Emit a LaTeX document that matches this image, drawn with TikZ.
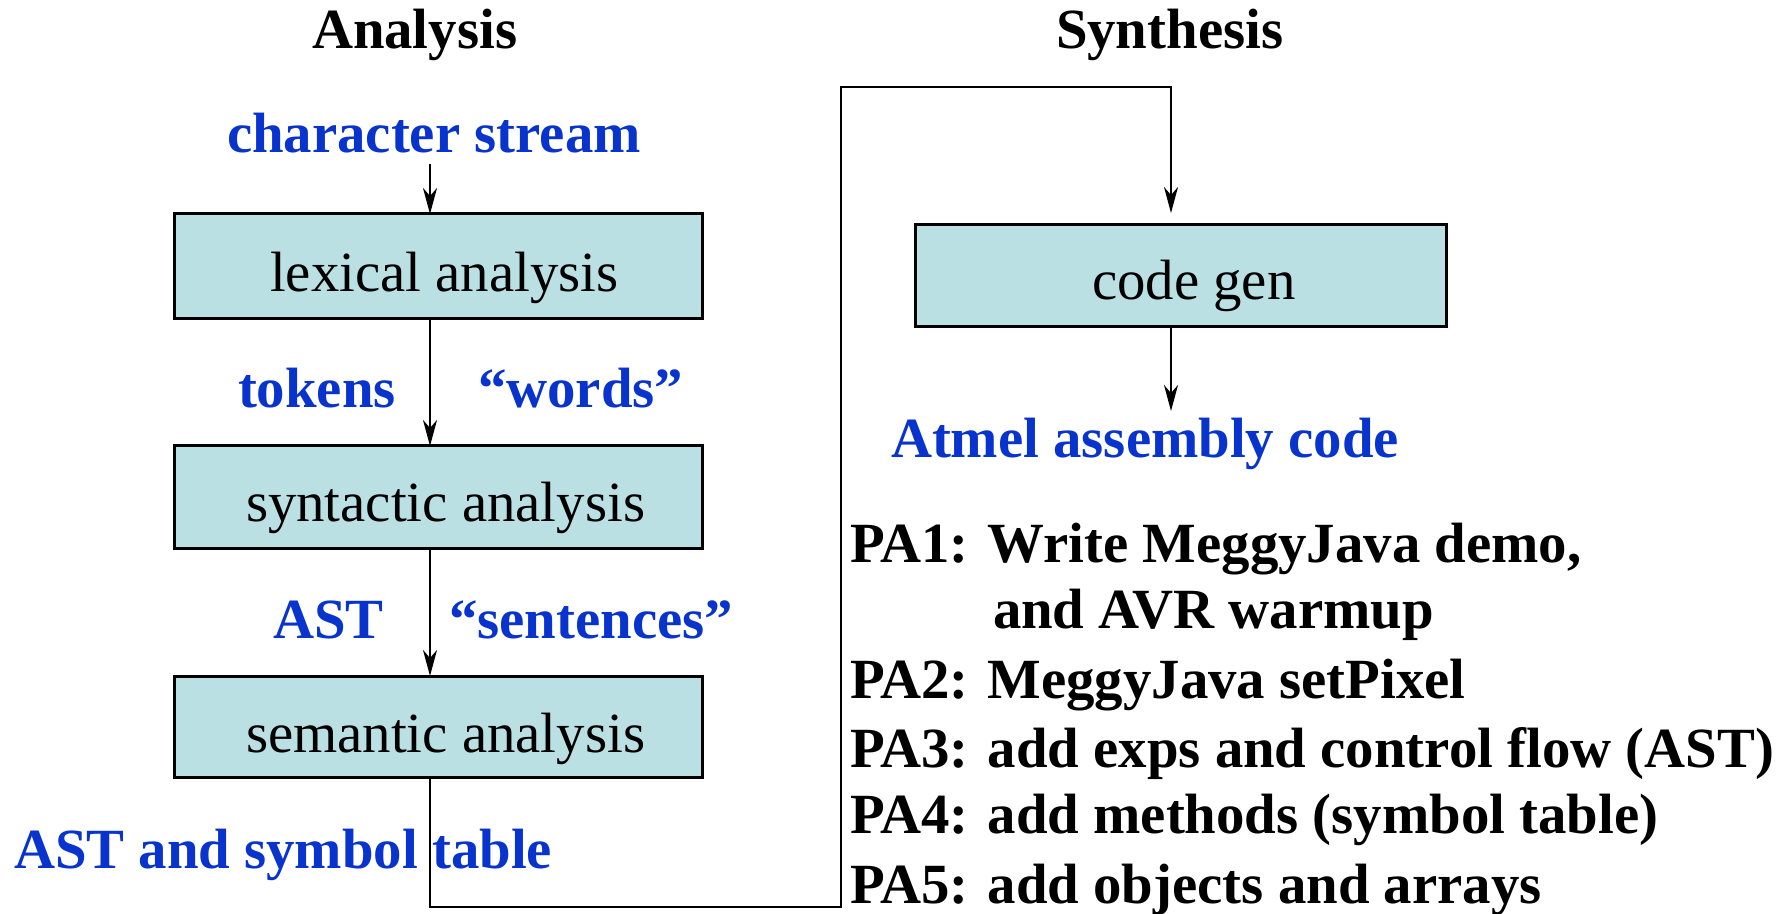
\documentclass[tikz,border=0pt]{standalone}
\usepackage{fontspec}
\setmainfont{Liberation Serif}
\usetikzlibrary{arrows.meta}
\definecolor{lblue}{RGB}{8,52,205}
\definecolor{boxfill}{RGB}{187,224,227}
\begin{document}
\begin{tikzpicture}[x=0.5pt,y=-0.5pt,
  txt/.style={font=\fontsize{28.4}{34}\selectfont, inner sep=0pt, outer sep=0pt, anchor=base west},
  btxt/.style={txt, font=\fontsize{28.4}{34}\selectfont\bfseries},
  blab/.style={btxt, text=lblue},
  box/.style={draw, line width=1.5pt, fill=boxfill, inner sep=0pt, outer sep=0pt, minimum width=264pt},
  conn/.style={line width=1pt, -{Stealth[length=13pt,width=7pt,inset=4pt]}}]
\useasboundingbox (0,0) rectangle (1783,914);

% headings
\node[btxt] (ana) at (312,49) {Analysis};
\node[btxt] (syn) at (1056,49) {Synthesis};

% boxes
\node[box, minimum height=52.5pt] (lex) at (438,266.5) {};
\node[box, minimum height=51pt] (syt) at (438,497) {};
\node[box, minimum height=50.5pt] (sem) at (438,726.5) {};
\node[box, minimum width=265.5pt, minimum height=51pt] (cg) at (1180.5,276) {};

% box texts
\node[txt] (lext) at (270,292) {lexical analysis};
\node[txt] (sytt) at (246,522) {syntactic analysis};
\node[txt] (semt) at (246,752) {semantic analysis};
\node[txt] (cgt) at (1092,300) {code gen};

% blue labels
\node[blab] (cs) at (227,153) {character stream};
\node[blab] (tok) at (238,408) {tokens};
\node[blab] (wrd) at (478,408) {“words”};
\node[blab] (ast) at (273,638) {AST};
\node[blab] (sen) at (449,638) {“sentences”};
\node[blab] (ast2) at (14,868) {AST and symbol table};
\node[blab] (atm) at (891,458) {Atmel assembly code};

% PA list
\node[btxt] (pa1) at (850,562) {PA1: Write MeggyJava demo,};
\node[btxt] (pa1b) at (993,628) {and AVR warmup};
\node[btxt] (pa2) at (850,698) {PA2: MeggyJava setPixel};
\node[btxt] (pa3) at (850,767) {PA3: add exps and control flow (AST)};
\node[btxt] (pa4) at (850,833) {PA4: add methods (symbol table)};
\node[btxt] (pa5) at (850,903) {PA5: add objects and arrays};

% connector coordinates
\coordinate (a0) at (430,164);
\coordinate (b1) at (841,907);
\coordinate (t1) at (841,87);
\coordinate (t2) at (1171,87);
\coordinate (cgin) at (1171,213);
\coordinate (asm) at (1171,411);

% connectors
\draw[conn] (a0) -- (a0 |- lex.north);
\draw[conn] (lex.south -| a0) -- (syt.north -| a0);
\draw[conn] (syt.south -| a0) -- (sem.north -| a0);
\draw[conn] (sem.south -| a0) |- (b1) -- (t1) -- (t2) -- (cgin);
\draw[conn] (cg.south -| cgin) -- (asm);
\end{tikzpicture}
\end{document}
